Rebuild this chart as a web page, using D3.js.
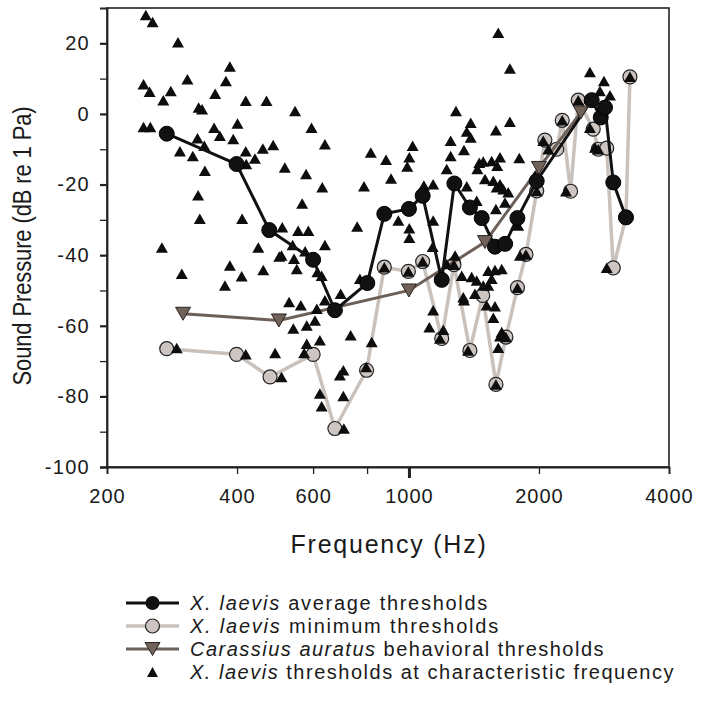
<!DOCTYPE html>
<html><head><meta charset="utf-8">
<script src="https://cdn.jsdelivr.net/npm/d3@7/dist/d3.min.js"></script>
<style>
html,body{margin:0;padding:0;background:#fff;}
text{font-family:"Liberation Sans",Arial,sans-serif;fill:#1a1a1a;}
</style></head>
<body>
<svg id="chart" width="701" height="701"></svg>
<script>
// ---------- DATA ----------
const xTickValues = [200, 400, 600, 800, 1000, 2000, 4000];
const xTickLabels = ["200", "400", "600", "", "1000", "2000", "4000"];
const yTickValues = [-100, -90, -80, -70, -60, -50, -40, -30, -20, -10, 0, 10, 20];
const yTickLabels = ["-100", "", "-80", "", "-60", "", "-40", "", "-20", "", "0", "", "20"];

// X. laevis average thresholds
const avgFreq = [275, 399, 475, 600, 674, 801, 877, 1000, 1076, 1191, 1274, 1384, 1474, 1582, 1670, 1783, 1976, 2649, 2780, 2844, 2972, 3180];
const avgDb   = [-5.6, -14.2, -32.9, -41.3, -55.6, -47.9, -28.3, -26.9, -23.2, -47.0, -19.7, -26.5, -29.5, -37.6, -36.8, -29.5, -19, 3.9, -1, 1.8, -19.4, -29.3];

// X. laevis minimum thresholds
const minFreq = [275, 399, 477, 600, 674, 798, 877, 997, 1076, 1191, 1271, 1384, 1482, 1590, 1677, 1783, 1866, 1976, 2064, 2198, 2264, 2367, 2466, 2671, 2744, 2870, 2972, 3180, 3248];
const minDb   = [-66.5, -68.1, -74.5, -68.1, -89.1, -72.6, -43.4, -44.6, -41.8, -63.6, -42.7, -67, -51.4, -76.6, -63.2, -49.2, -39.8, -21.8, -7.4, -10, -1.8, -21.9, 3.9, -4.3, -10, -9.7, -43.6, -29.3, 10.5];

// Carassius auratus behavioral thresholds
const goldFreq = [300, 500, 1000, 1500, 2000, 2500];
const goldDb   = [-56.6, -58.5, -50, -36.3, -15.3, 0.4];

// X. laevis thresholds at characteristic frequency
const cfFreq = [246,255,292,385,243,251,307,281,270,377,356,326,332,419,468,545,243,252,354,401,365,392,324,336,295,316,419,440,459,485,420,337,516,325,328,411,509,554,566,268,448,538,
595,639,578,630,585,639,759,787,816,885,909,1020,1002,991,945,1002,1002,1138,1083,1138,1285,1390,1361,1390,1249,1341,1249,1223,1455,1440,1361,1435,1135,
1610,1713,1590,1713,1801,1554,1625,1486,1601,1500,1568,1596,1654,1698,1669,1590,2624,2828,2920,2768,3248,2466,2264,2624,2046,2102,2696,1958,1976,2310,3180,2870,1790,1625,
1279,1223,1325,1397,1435,1526,1582,1640,1486,1422,1336,1807,
507,542,575,550,614,628,639,612,695,770,528,562,606,580,540,733,820,580,622,572,507,705,692,796,622,628,705,707,
1138,1115,1201,1180,1341,1370,298,385,410,375,460,501,290,419,490,
1513,1582,1568,1640,1625,1610,1554,1526,877,997,1076,1271,1590,1677,1783,1866,2744];
const cfDb = [28.0,26.0,20.3,13.4,8.4,6.3,9.8,6.5,3.9,9.3,5.7,1.8,1.3,3.7,3.7,0.8,-3.7,-3.7,-3.9,-2.7,-6.2,-7.1,-6.9,-9.0,-10.6,-11.9,-10.6,-12.6,-9.8,-8.8,-14.2,-16.1,-15.2,-23.0,-29.7,-29.7,-32.1,-33.1,-25.4,-37.8,-37.8,-37.1,
-3.9,-8.6,-17.0,-20.8,-33.1,-37.1,-31.9,-20.5,-10.9,-13.0,-18.3,-9.0,-12.3,-14.9,-30.2,-32.4,-35.1,-19.9,-20.3,-30.2,0.8,-2.5,-5.0,-6.7,-7.6,-10.2,-11.9,-15.6,-13.8,-15.6,-20.5,-24.6,-37.6,
23.0,12.9,-4.6,-2.2,-12.5,-13.3,-12.3,-13.5,-14.7,-18.4,-18.9,-20.8,-21.3,-22.2,-25.1,-26.9,11.9,9.3,5.3,6.5,10.5,3.9,-1.8,-3.9,-7.6,-10.0,-9.5,-17.5,-21.8,-21.9,-29.1,-43.6,-31.6,-19.9,
-40.1,-42.5,-45.8,-46.2,-47.2,-44.4,-44.2,-43.9,-48.6,-50.9,-51.9,-40.1,
-40.1,-41.0,-38.9,-43.9,-44.8,-45.8,-52.8,-55.2,-50.9,-46.7,-53.3,-54.2,-58.5,-59.9,-60.8,-62.7,-64.6,-65.1,-64.1,-67.7,-74.5,-72.6,-74.0,-71.7,-79.2,-82.8,-79.9,-89.1,
-55.6,-60.4,-61.1,-63.6,-52.8,-67,-45.3,-42.9,-46.0,-48.6,-44.2,-40.4,-66.3,-68.1,-67.7,
-54.2,-54.5,-57.7,-61.8,-63.0,-66.2,-46.7,-48.6,-43.4,-44.6,-41.8,-42.7,-76.6,-63.2,-49.2,-39.8,-10];

const legendItems = [
  {italic: "X. laevis", rest: " average thresholds", kind: "avg"},
  {italic: "X. laevis", rest: " minimum thresholds", kind: "min"},
  {italic: "Carassius auratus", rest: " behavioral thresholds", kind: "gold"},
  {italic: "X. laevis", rest: " thresholds at characteristic frequency", kind: "cf"}
];

// ---------- STYLE ----------
const C = {
  avg: "#111111", minLine: "#c9c1bc", minFill: "#cdc5c1", gold: "#6d6058", goldFill: "#716259", axis: "#222"
};

const svg = d3.select("#chart");
const x = d3.scaleLog().domain([200, 4000]).range([107, 669]);
const y = d3.scaleLinear().domain([-100, 30]).range([467, 8]);

// stretch text by letter spacing so that it spans a target width
function fitWidth(sel, target) {
  sel.each(function() {
    const n = this.getNumberOfChars();
    const w = this.getComputedTextLength();
    if (n > 1) d3.select(this).style("letter-spacing", ((target - w) / n) + "px");
  });
}

// frame
svg.append("rect").attr("x", 107).attr("y", 8).attr("width", 669 - 107).attr("height", 467 - 8)
  .attr("fill", "none").attr("stroke", C.axis).attr("stroke-width", 1.6);

// axes
const yAxis = d3.axisLeft(y).tickValues(yTickValues).tickSize(7).tickPadding(10)
  .tickFormat((d, i) => yTickLabels[i]);
const gy = svg.append("g").attr("transform", "translate(107,0)").call(yAxis);
gy.select(".domain").attr("stroke", C.axis).attr("stroke-width", 1.8);
gy.selectAll(".tick line").attr("stroke", C.axis).attr("stroke-width", (d) => d % 20 === 0 ? 2.2 : 1.3);
gy.selectAll(".tick text").style("font-size", "20px").style("letter-spacing", "1.3px").attr("fill", "#1a1a1a");

const xAxis = d3.axisBottom(x).tickValues(xTickValues).tickSize(7).tickPadding(15)
  .tickFormat((d, i) => xTickLabels[i]);
const gx = svg.append("g").attr("transform", "translate(0,467)").call(xAxis);
gx.select(".domain").attr("stroke", C.axis).attr("stroke-width", 1.8);
gx.selectAll(".tick line").attr("stroke", C.axis)
  .attr("stroke-width", d => d === 1000 ? 3 : 1.3)
  .attr("y2", d => d === 1000 ? 11 : 7);
gx.selectAll(".tick text").style("font-size", "20px").style("letter-spacing", "1px").attr("fill", "#1a1a1a");

// axis titles
const xt = svg.append("text").attr("x", 389).attr("y", 553).attr("text-anchor", "middle")
  .style("font-size", "25px").text("Frequency (Hz)");
fitWidth(xt, 197);
const yt = svg.append("text").attr("transform", "translate(31,246) rotate(-90) scale(1,1.2)").attr("text-anchor", "middle")
  .style("font-size", "22px").text("Sound Pressure (dB re 1 Pa)");
fitWidth(yt, 279);

// marker generators
function triUp(w, h) { return `M0,${-h/2}L${w/2},${h/2}L${-w/2},${h/2}Z`; }
function triDown(w, h) { return `M0,${h/2}L${w/2},${-h/2}L${-w/2},${-h/2}Z`; }

const line = d3.line().x(d => x(d[0])).y(d => y(d[1]));
const avgData = avgFreq.map((f, i) => [f, avgDb[i]]);
const minData = minFreq.map((f, i) => [f, minDb[i]]);
const goldData = goldFreq.map((f, i) => [f, goldDb[i]]);
const cfData = cfFreq.map((f, i) => [f, cfDb[i]]);

const plot = svg.append("g");
// minimum thresholds
plot.append("path").datum(minData).attr("d", line).attr("fill", "none")
  .attr("stroke", C.minLine).attr("stroke-width", 3.5).attr("stroke-linejoin", "round");
plot.selectAll(".minpt").data(minData).enter().append("circle")
  .attr("cx", d => x(d[0])).attr("cy", d => y(d[1])).attr("r", 7)
  .attr("fill", C.minFill).attr("stroke", "#222").attr("stroke-width", 1.2);
// goldfish line
plot.append("path").datum(goldData).attr("d", line).attr("fill", "none")
  .attr("stroke", C.gold).attr("stroke-width", 3);
// characteristic-frequency triangles
plot.selectAll(".cf").data(cfData).enter().append("path")
  .attr("d", triUp(12, 10.5)).attr("transform", d => `translate(${x(d[0])},${y(d[1])})`)
  .attr("fill", "#0d0d0d");
// average
plot.append("path").datum(avgData).attr("d", line).attr("fill", "none")
  .attr("stroke", C.avg).attr("stroke-width", 3).attr("stroke-linejoin", "round");
plot.selectAll(".avgpt").data(avgData).enter().append("circle")
  .attr("cx", d => x(d[0])).attr("cy", d => y(d[1])).attr("r", 7.5)
  .attr("fill", "#111").attr("stroke", "#000").attr("stroke-width", 1);
// goldfish markers
plot.selectAll(".goldpt").data(goldData).enter().append("path")
  .attr("d", triDown(15, 13)).attr("transform", d => `translate(${x(d[0])},${y(d[1])})`)
  .attr("fill", C.goldFill).attr("stroke", "#2a2420").attr("stroke-width", 1);

// legend
const legY = [603, 626, 649, 672];
const legEnd = [489, 500, 605, 675];
const leg = svg.append("g");
legendItems.forEach((it, i) => {
  const g = leg.append("g").attr("transform", `translate(0,${legY[i]})`);
  if (it.kind === "avg") {
    g.append("line").attr("x1", 126).attr("x2", 179).attr("stroke", C.avg).attr("stroke-width", 3);
    g.append("circle").attr("cx", 152.5).attr("r", 7).attr("fill", "#111");
  } else if (it.kind === "min") {
    g.append("line").attr("x1", 126).attr("x2", 179).attr("stroke", C.minLine).attr("stroke-width", 3.5);
    g.append("circle").attr("cx", 152.5).attr("r", 7).attr("fill", C.minFill).attr("stroke", "#222").attr("stroke-width", 1.2);
  } else if (it.kind === "gold") {
    g.append("line").attr("x1", 126).attr("x2", 179).attr("stroke", C.gold).attr("stroke-width", 3);
    g.append("path").attr("d", triDown(15, 13)).attr("transform", "translate(152.5,0)")
      .attr("fill", C.goldFill).attr("stroke", "#2a2420").attr("stroke-width", 1);
  } else {
    g.append("path").attr("d", triUp(11, 10)).attr("transform", "translate(152.5,0)").attr("fill", "#0d0d0d");
  }
  const t = g.append("text").attr("x", 190).attr("y", 7).style("font-size", "20px");
  t.append("tspan").style("font-style", "italic").text(it.italic);
  t.append("tspan").text(it.rest);
  fitWidth(t, legEnd[i] - 190);
});
</script>
</body></html>
